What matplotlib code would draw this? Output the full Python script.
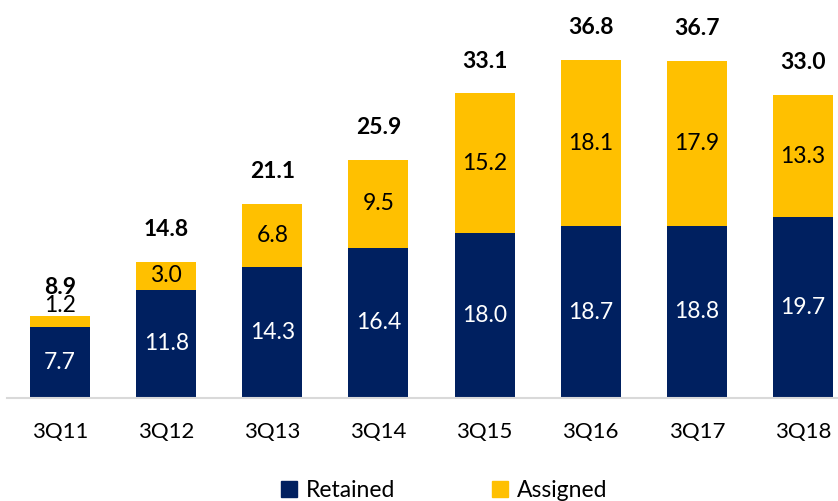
import matplotlib.pyplot as plt
from matplotlib.patches import Patch

quarters = ["3Q11", "3Q12", "3Q13", "3Q14", "3Q15", "3Q16", "3Q17", "3Q18"]
retained = [7.7, 11.8, 14.3, 16.4, 18.0, 18.7, 18.8, 19.7]
assigned = [1.2, 3.0, 6.8, 9.5, 15.2, 18.1, 17.9, 13.3]
totals = [8.9, 14.8, 21.1, 25.9, 33.1, 36.8, 36.7, 33.0]

NAVY = "#002060"
GOLD = "#FFC000"

plt.rcParams["font.family"] = ["Lato", "DejaVu Sans"]

fig = plt.figure(figsize=(8.38, 5.01), dpi=100)
ax = fig.add_axes([7 / 838, 103 / 501, 831 / 838, 367 / 501])

x = list(range(len(quarters)))
w = 0.565
ax.bar(x, retained, width=w, color=NAVY)
ax.bar(x, assigned, width=w, bottom=retained, color=GOLD)

for i in x:
    ax.text(i, retained[i] / 2, f"{retained[i]:.1f}", ha="center", va="center",
            color="white", fontsize=16.5)
    if assigned[i] < 2:
        # small segment: label sits just above the bar
        ax.annotate(f"{assigned[i]:.1f}", (i, totals[i]), xytext=(0, 0),
                    textcoords="offset points", ha="center", va="bottom",
                    fontsize=16.5, color="black")
        ax.annotate(f"{totals[i]:.1f}", (i, totals[i]), xytext=(0, 13),
                    textcoords="offset points", ha="center", va="bottom",
                    fontsize=16.5, fontweight="bold")
    else:
        ax.text(i, retained[i] + assigned[i] / 2, f"{assigned[i]:.1f}",
                ha="center", va="center", color="black", fontsize=16.5)
        ax.annotate(f"{totals[i]:.1f}", (i, totals[i]), xytext=(0, 16),
                    textcoords="offset points", ha="center", va="bottom",
                    fontsize=16.5, fontweight="bold")

ax.set_xlim(-0.5, 7.33)
ax.set_ylim(0, 40)
ax.set_xticks(x)
ax.set_xticklabels(quarters, fontsize=16)
ax.tick_params(axis="x", length=0, pad=17)
ax.set_yticks([])
for s in ["top", "right", "left"]:
    ax.spines[s].set_visible(False)
ax.spines["bottom"].set_color("#D9D9D9")
ax.spines["bottom"].set_linewidth(1.5)

handles = [Patch(color=NAVY, label="Retained"), Patch(color=GOLD, label="Assigned")]
fig.legend(handles=handles, loc="center", bbox_to_anchor=(0.53, 0.02), ncol=2,
           frameon=False, fontsize=16.5, handlelength=0.7, handleheight=0.7,
           handletextpad=0.4, columnspacing=4.2)

fig.savefig("out.png", dpi=100)
